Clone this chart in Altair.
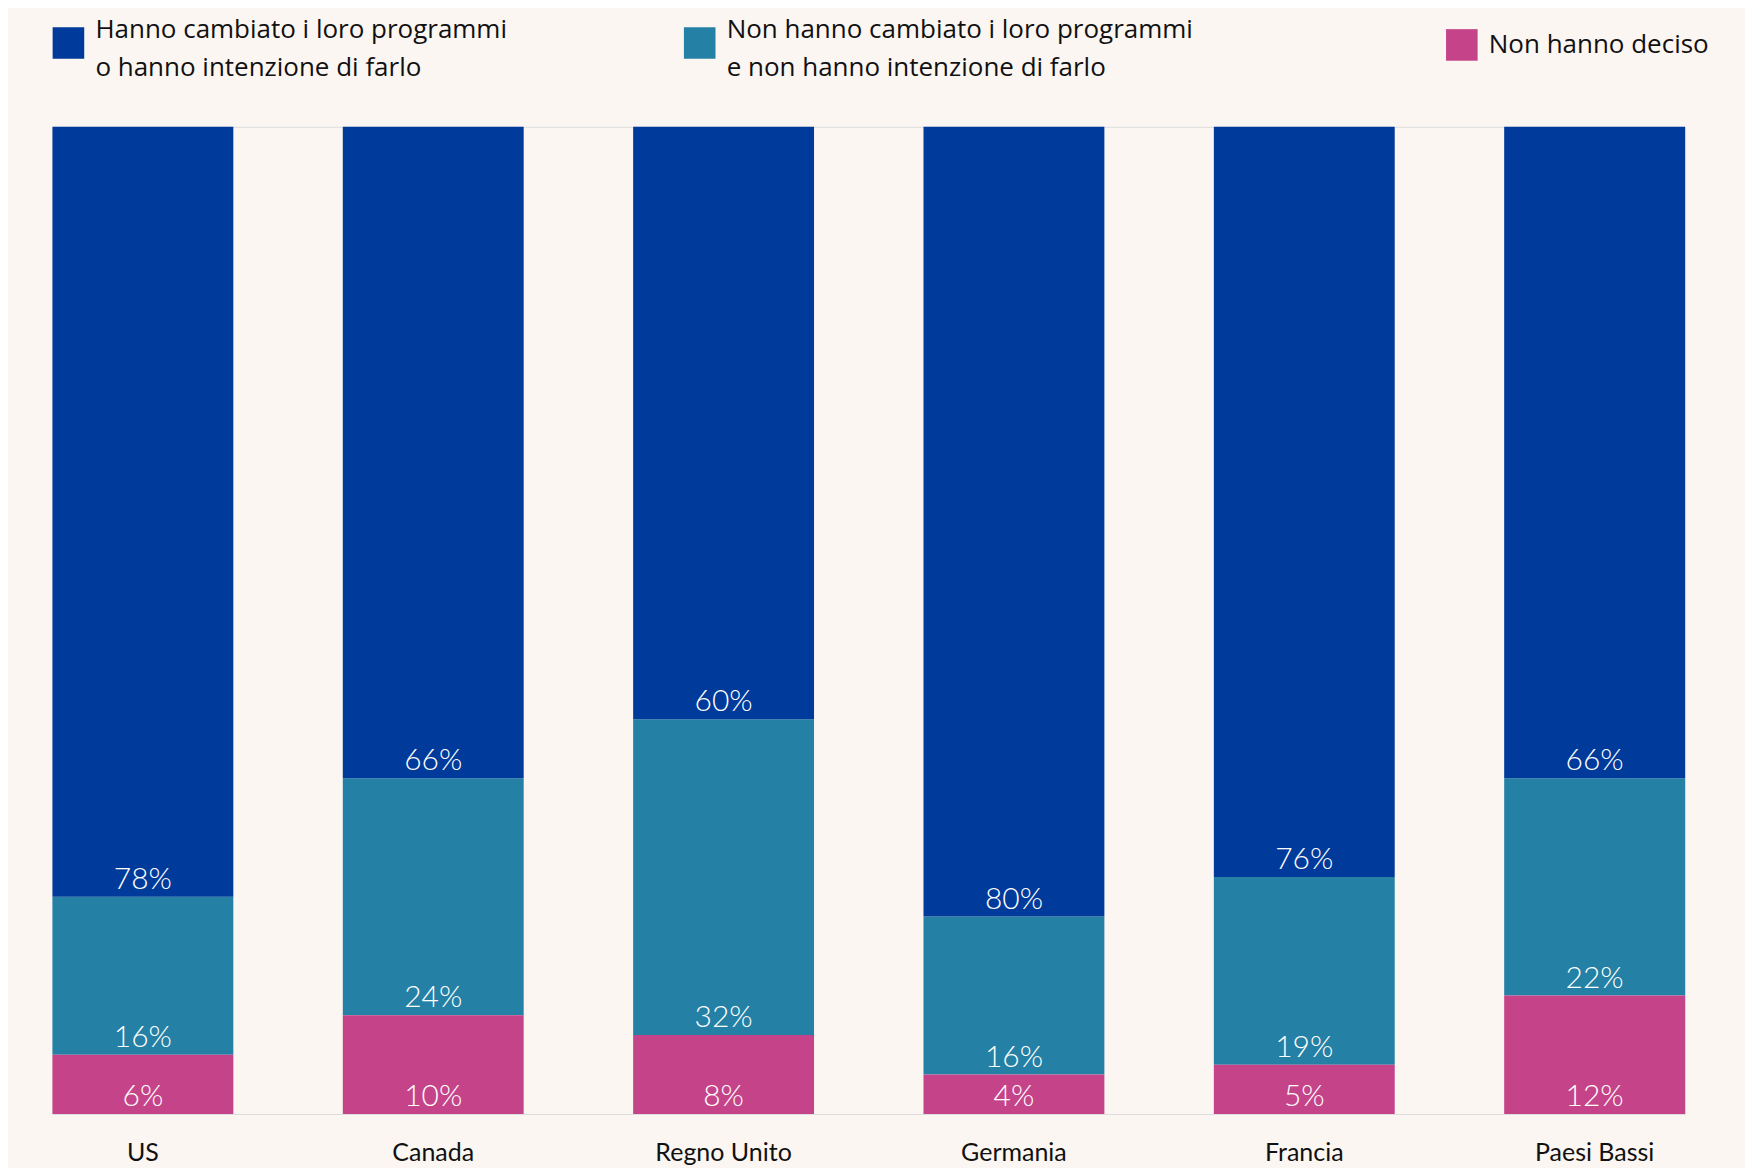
import altair as alt
import pandas as pd

countries = ["US", "Canada", "Regno Unito", "Germania", "Francia", "Paesi Bassi"]
changed = [78, 66, 60, 80, 76, 66]
not_changed = [16, 24, 32, 16, 19, 22]
undecided = [6, 10, 8, 4, 5, 12]

series = [
    "Hanno cambiato i loro programmi|o hanno intenzione di farlo",
    "Non hanno cambiato i loro programmi|e non hanno intenzione di farlo",
    "Non hanno deciso",
]
colors = ["#003A9A", "#2480A4", "#C54489"]

rows = []
for i, c in enumerate(countries):
    vals = [changed[i], not_changed[i], undecided[i]]
    base = 0
    # stack from bottom: undecided, not changed, changed
    for k in [2, 1, 0]:
        rows.append({
            "country": c,
            "series": series[k],
            "order": 2 - k,
            "value": vals[k],
            "y0": base,
            "y1": base + vals[k],
            "label": f"{vals[k]}%",
        })
        base += vals[k]
df = pd.DataFrame(rows)
df_two = df[df["series"] != series[2]]
df_one = df[df["series"] == series[2]]

FONT = "Lato"
LFONT = "Open Sans"

x_enc = alt.X(
    "country:N",
    sort=countries,
    title=None,
    scale=alt.Scale(paddingInner=0.377, paddingOuter=0),
    axis=alt.Axis(
        domain=False, ticks=False, labelAngle=0, labelFontSize=25,
        labelFont=FONT, labelColor="#111111", labelPadding=27,
        labelBaseline="top",
    ),
)
y_scale = alt.Scale(domain=[0, 100])

common_legend = dict(
    title=None,
    orient="none",
    direction="horizontal",
    gridAlign="none",
    symbolType="square",
    symbolSize=1000,
    symbolStrokeWidth=0,
    symbolOpacity=1,
    labelOffset=11,
    labelFontSize=26,
    labelFont=LFONT,
    labelColor="#111111",
    labelLimit=800,
    padding=0,
)

bars_two = alt.Chart(df_two).mark_bar().encode(
    x=x_enc,
    y=alt.Y("y0:Q", scale=y_scale, axis=None),
    y2="y1:Q",
    color=alt.Color(
        "series:N",
        scale=alt.Scale(domain=series[:2], range=colors[:2]),
        legend=alt.Legend(
            legendX=0,
            legendY=-100,
            columns=2,
            columnPadding=176,
            labelBaseline="bottom",
            labelExpr="split(datum.label, '|')",
            **common_legend,
        ),
    ),
)

bars_one = alt.Chart(df_one).mark_bar().encode(
    x=x_enc,
    y=alt.Y("y0:Q", scale=y_scale, axis=None),
    y2="y1:Q",
    fill=alt.Fill(
        "series:N",
        scale=alt.Scale(domain=series[2:], range=colors[2:]),
        legend=alt.Legend(
            legendX=1395,
            legendY=-98,
            labelBaseline="middle",
            **common_legend,
        ),
    ),
)

texts = alt.Chart(df).mark_text(
    color="white", fontSize=30, font=FONT, fontWeight=300,
    baseline="alphabetic", dy=-8, align="center",
).encode(
    x=alt.X("country:N", sort=countries),
    y=alt.Y("y0:Q", scale=y_scale),
    text="label:N",
)

chart = alt.layer(bars_two, bars_one, texts).properties(
    width=1634.5,
    height=988.3,
    autosize=alt.AutoSizeParams(type="none"),
    padding={"left": 44.5, "top": 118.3, "right": 60, "bottom": 64},
    background="#FBF6F2",
).configure_view(stroke=None).configure(style={"guide-label": {"lineHeight": 38}})

chart.save("out.html", embed_options={"renderer": "svg", "actions": False})
